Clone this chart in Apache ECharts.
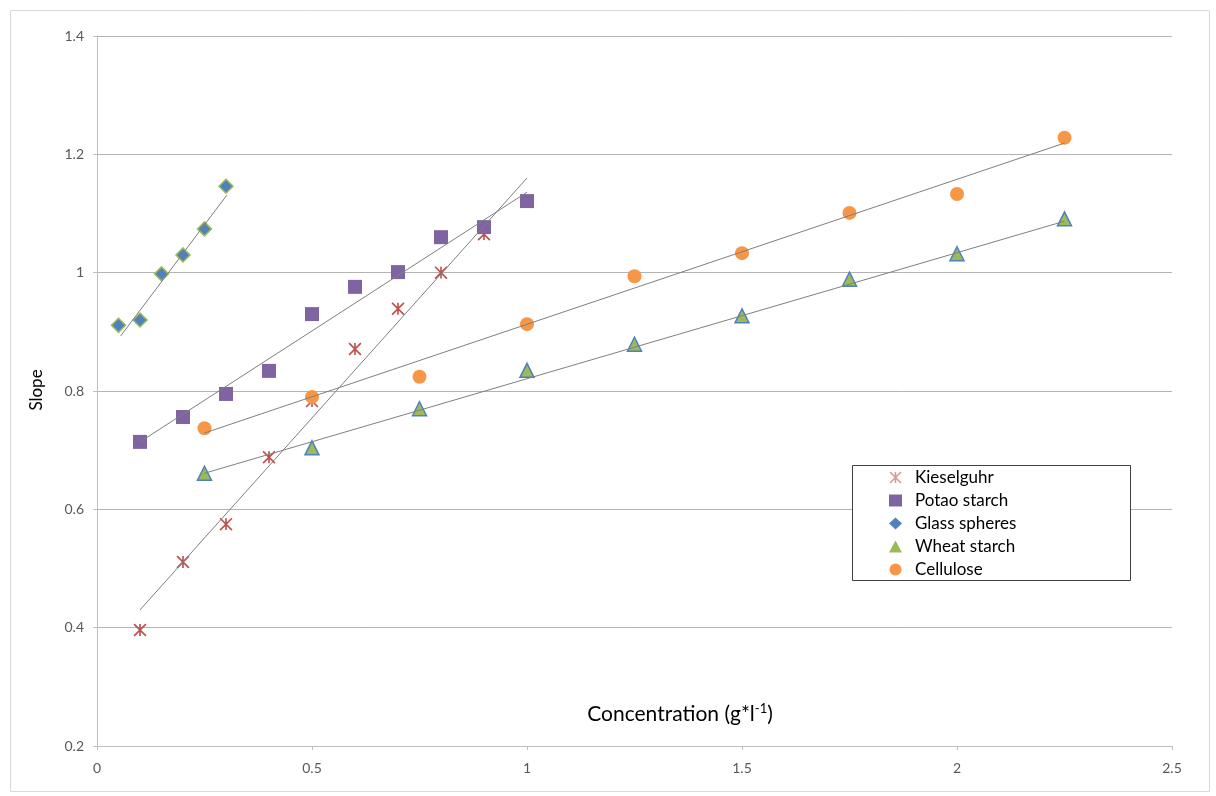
<!DOCTYPE html>
<html><head><meta charset="utf-8">
<script src="https://cdn.jsdelivr.net/npm/echarts@6/dist/echarts.min.js"></script>
<style>html,body{margin:0;padding:0;background:#fff}#c{width:1216px;height:796px}</style>
</head><body><div id="c"></div>
<script>
// ---- data ----
const seriesNames = ['Kieselguhr', 'Potao starch', 'Glass spheres', 'Wheat starch', 'Cellulose'];
const kieselguhrX = [0.1, 0.2, 0.3, 0.4, 0.5, 0.6, 0.7, 0.8, 0.9, 1.0];
const kieselguhrY = [0.396, 0.511, 0.575, 0.688, 0.783, 0.871, 0.939, 1.0, 1.065, 1.12];
const potatoX = [0.1, 0.2, 0.3, 0.4, 0.5, 0.6, 0.7, 0.8, 0.9, 1.0];
const potatoY = [0.714, 0.756, 0.795, 0.834, 0.930, 0.976, 1.001, 1.060, 1.077, 1.121];
const glassX = [0.05, 0.1, 0.15, 0.2, 0.25, 0.3];
const glassY = [0.911, 0.920, 0.998, 1.030, 1.074, 1.146];
const wheatX = [0.25, 0.5, 0.75, 1.0, 1.25, 1.5, 1.75, 2.0, 2.25];
const wheatY = [0.661, 0.704, 0.770, 0.835, 0.879, 0.927, 0.989, 1.032, 1.091];
const celluloseX = [0.25, 0.5, 0.75, 1.0, 1.25, 1.5, 1.75, 2.0, 2.25];
const celluloseY = [0.737, 0.790, 0.824, 0.913, 0.994, 1.033, 1.101, 1.133, 1.228];
// trendline endpoints: [x0, y0, x1, y1]
const trendKieselguhr = [0.1, 0.43, 1.0, 1.16];
const trendPotato = [0.1, 0.714, 1.0, 1.136];
const trendGlass = [0.055, 0.893, 0.302, 1.131];
const trendWheat = [0.25, 0.661, 2.25, 1.087];
const trendCellulose = [0.25, 0.729, 2.25, 1.219];
const xTicks = [0, 2.5, 0.5];
const yTicks = [0.2, 1.4, 0.2];
const xAxisTitle = 'Concentration (g*l';
const xAxisTitleSup = '-1';
const yAxisTitle = 'Slope';

// ---- build ----
const pairs = (xs, ys) => xs.map((x, i) => [x, ys[i]]);
const trend = t => [[t[0], t[1]], [t[2], t[3]]];
const FONT = 'Lato, "Open Sans", sans-serif';
const starPath = 'path://M-0.7,-5L0.7,-5L0.7,5L-0.7,5Z' +
  'M-4.5,-5.5L5.5,4.5L4.5,5.5L-5.5,-4.5Z' +
  'M-5.5,4.5L4.5,-5.5L5.5,-4.5L-4.5,5.5Z';

function trendSeries(t) {
  return {
    type: 'line', data: trend(t), showSymbol: false, symbol: 'none', silent: true, z: 5,
    lineStyle: { color: '#7f7f7f', width: 1 }, emphasis: { disabled: true }
  };
}

const legendColors = ['#d99694', '#8064a2', '#4f81bd', '#9bbb59', '#f79646'];

const option = {
  animation: false,
  backgroundColor: '#fff',
  grid: { left: 97, right: 44, top: 36, bottom: 50 },
  xAxis: {
    type: 'value', min: xTicks[0], max: xTicks[1], interval: xTicks[2],
    axisLine: { show: true, lineStyle: { color: '#bfbfbf', width: 1 } },
    axisTick: { show: true, length: 4, lineStyle: { color: '#bfbfbf' } },
    axisLabel: { color: '#595959', fontFamily: FONT, fontSize: 14, margin: 15 },
    splitLine: { show: false }
  },
  yAxis: {
    type: 'value', min: yTicks[0], max: yTicks[1], interval: yTicks[2],
    axisLine: { show: true, lineStyle: { color: '#bfbfbf', width: 1 } },
    axisTick: { show: true, length: 4, lineStyle: { color: '#bfbfbf' } },
    axisLabel: { color: '#595959', fontFamily: FONT, fontSize: 14, margin: 13 },
    splitLine: { show: true, lineStyle: { color: '#b3b3b3', width: 1 } }
  },
  legend: {
    data: seriesNames.map((n, i) => ({ name: n, itemStyle: { color: legendColors[i], borderWidth: 0 } })),
    orient: 'vertical', left: 889, top: 469, padding: 0, z: 50,
    itemWidth: 13, itemHeight: 12, itemGap: 6,
    textStyle: { color: '#000', fontFamily: FONT, fontSize: 17, padding: [0, 0, 0, 8] }
  },
  series: [
    { name: 'Kieselguhr', type: 'scatter', data: pairs(kieselguhrX, kieselguhrY), symbol: starPath, symbolSize: 13,
      itemStyle: { color: '#c0504d', opacity: 1 }, z: 2 },
    { name: 'Potao starch', type: 'scatter', data: pairs(potatoX, potatoY), symbol: 'rect', symbolSize: 14,
      itemStyle: { color: '#8064a2', opacity: 1 }, z: 3 },
    { name: 'Glass spheres', type: 'scatter', data: pairs(glassX, glassY), symbol: 'diamond', symbolSize: 14,
      itemStyle: { color: '#4f81bd', borderColor: '#9bbb59', borderWidth: 1.5, opacity: 1 }, z: 3 },
    { name: 'Wheat starch', type: 'scatter', data: pairs(wheatX, wheatY), symbol: 'triangle', symbolSize: 14,
      itemStyle: { color: '#9bbb59', borderColor: '#4f81bd', borderWidth: 1.5, opacity: 1 }, z: 3 },
    { name: 'Cellulose', type: 'scatter', data: pairs(celluloseX, celluloseY), symbol: 'circle', symbolSize: 14,
      itemStyle: { color: '#f79646', opacity: 1 }, z: 3 },
    trendSeries(trendKieselguhr),
    trendSeries(trendPotato),
    trendSeries(trendGlass),
    trendSeries(trendWheat),
    trendSeries(trendCellulose)
  ],
  graphic: [
    { type: 'rect', left: 8, top: 8, shape: { width: 1199, height: 781 }, silent: true, z: -1,
      style: { fill: 'none', stroke: '#d9d9d9', lineWidth: 1 } },
    { type: 'rect', left: 852, top: 465, shape: { width: 278, height: 115 }, silent: true, z: 1,
      style: { fill: '#fff', stroke: '#404040', lineWidth: 1 } },
    { type: 'text', x: 37, y: 390, rotation: Math.PI / 2, silent: true,
      style: { text: yAxisTitle, fill: '#000', font: '17px ' + FONT, textAlign: 'center', textVerticalAlign: 'middle' } },
    { type: 'text', x: 680, y: 714, silent: true,
      style: {
        text: '{a|' + xAxisTitle + '}{s|' + xAxisTitleSup + '}{a|)}',
        textAlign: 'center', textVerticalAlign: 'middle',
        rich: {
          a: { fontFamily: FONT, fontSize: 21, fill: '#000', color: '#000' },
          s: { fontFamily: FONT, fontSize: 13, fill: '#000', color: '#000', padding: [0, 0, 10, 0] }
        }
      } }
  ]
};
const chart = echarts.init(document.getElementById('c'), null, { renderer: 'canvas' });
chart.setOption(option);
</script>
</body></html>
